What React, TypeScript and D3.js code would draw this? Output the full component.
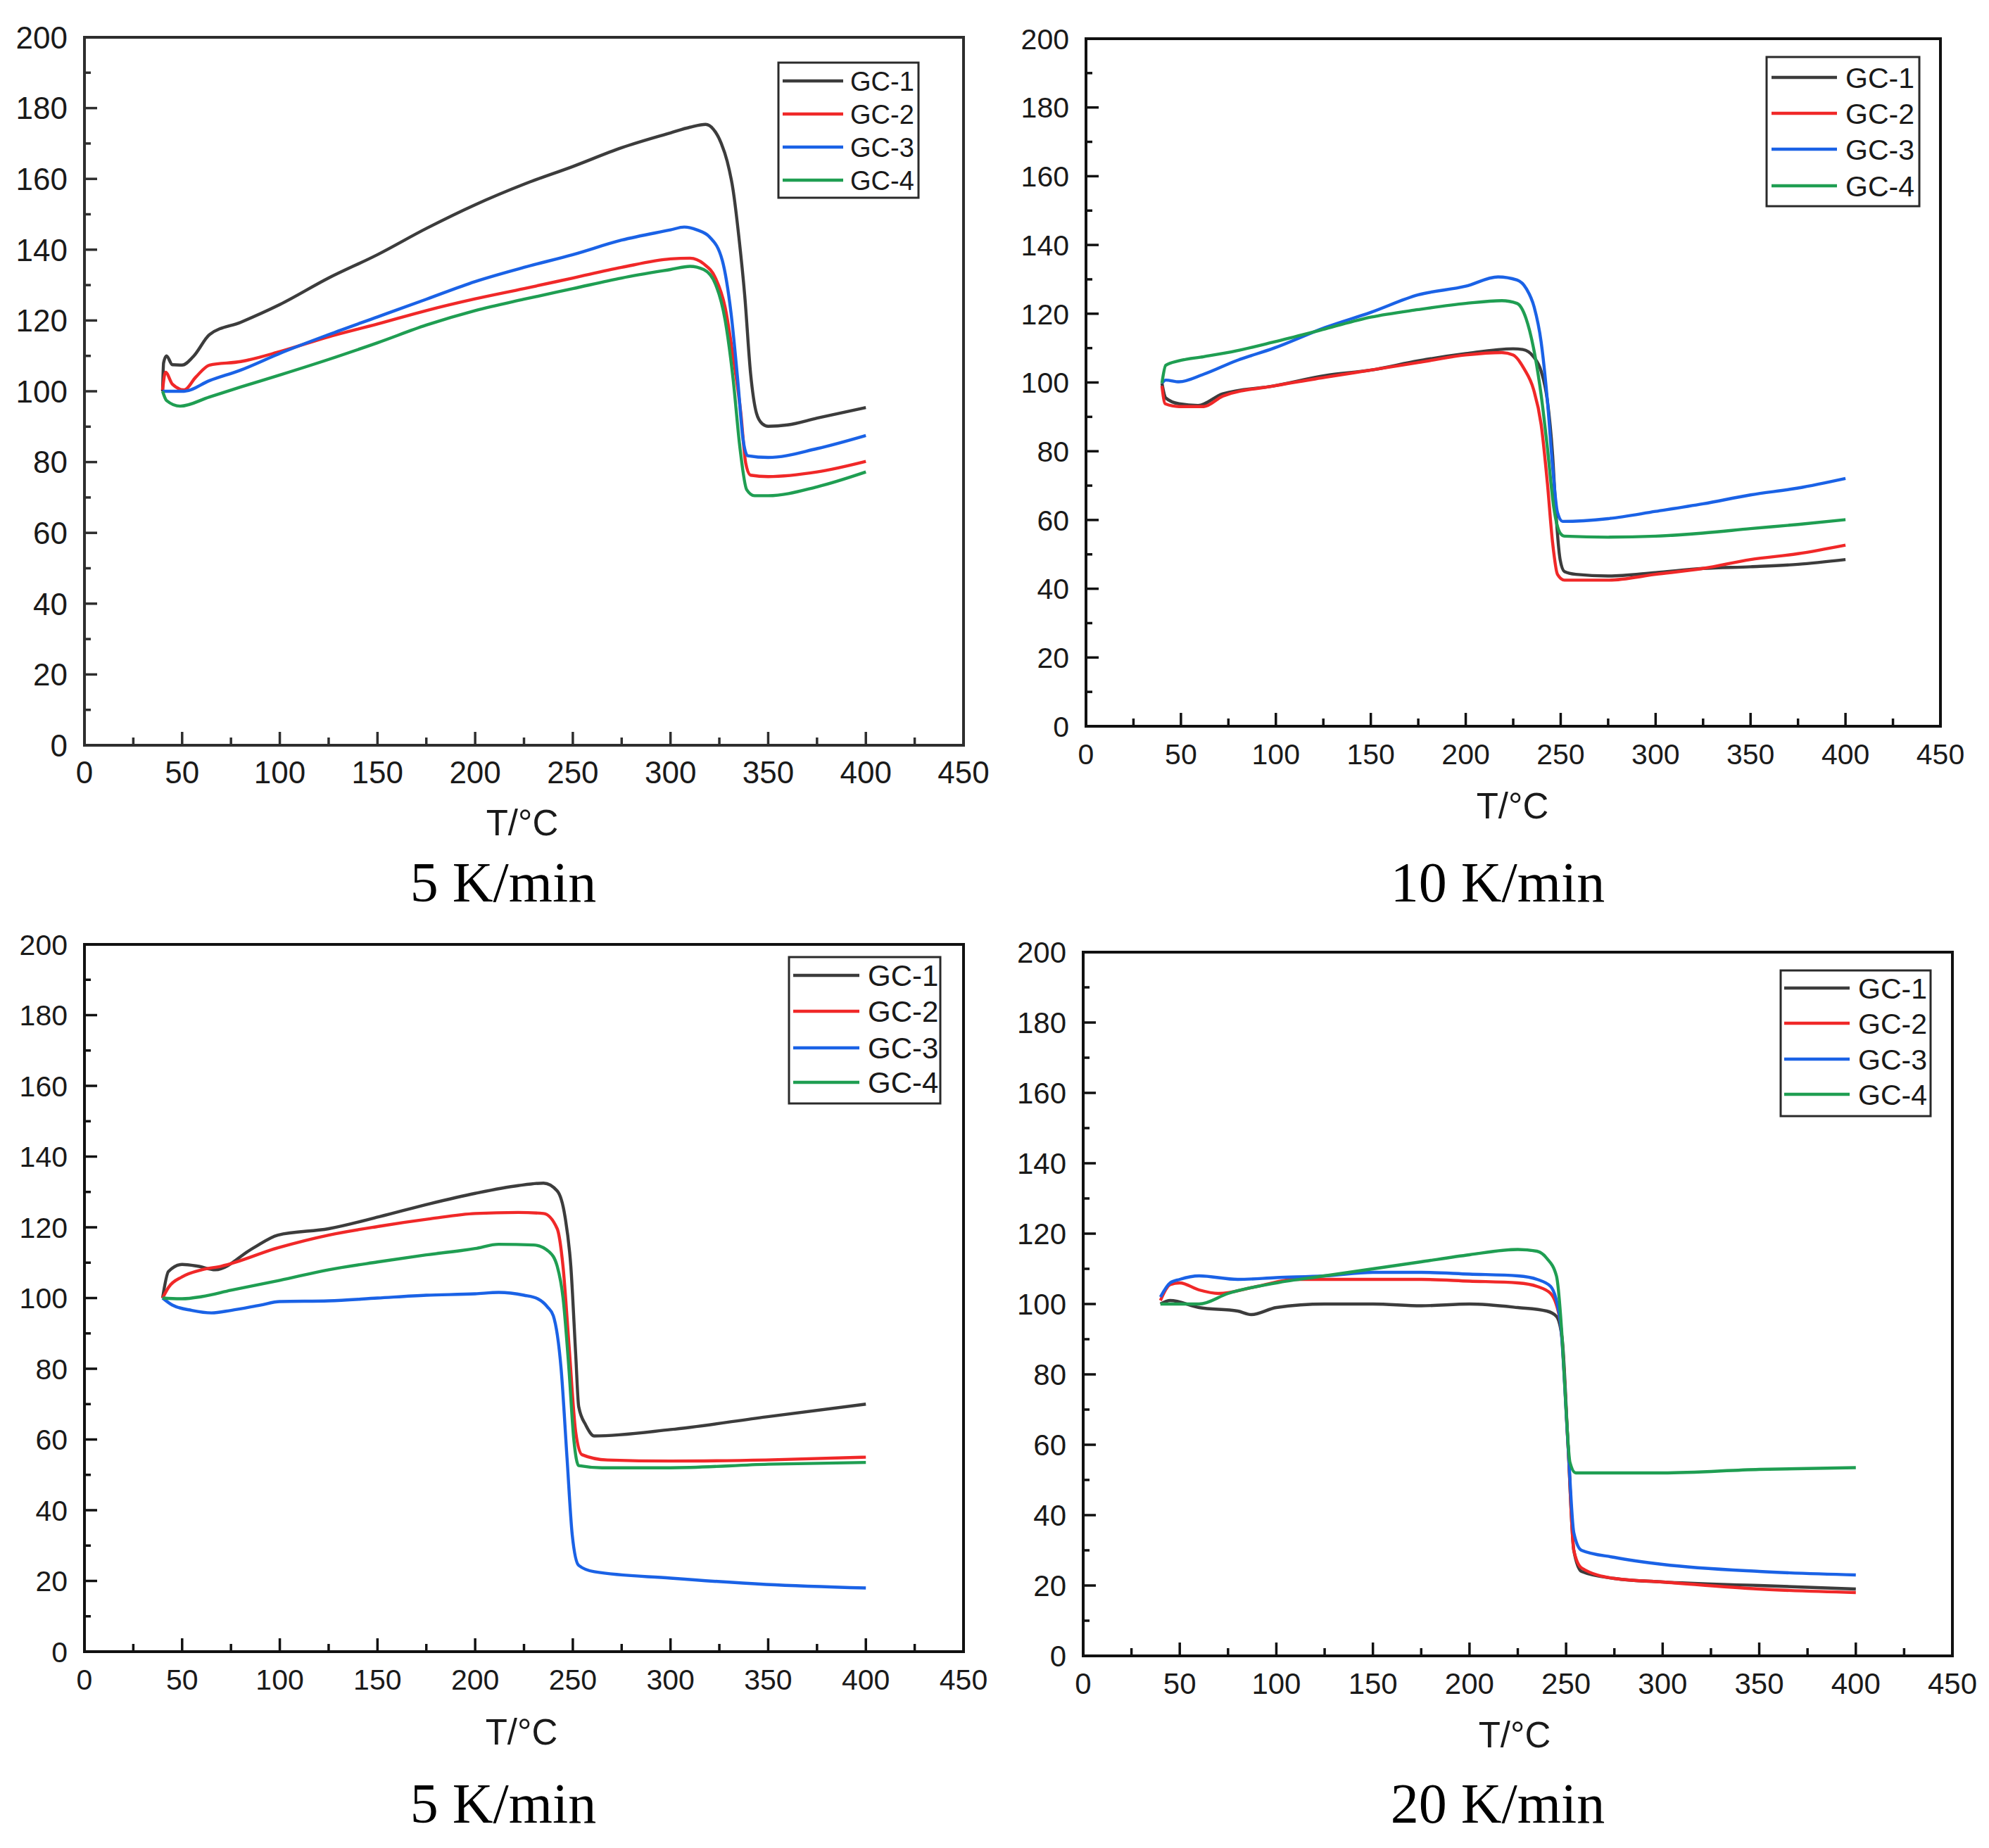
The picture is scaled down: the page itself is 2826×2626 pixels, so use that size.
import React from "react";
import * as d3 from "d3";

type Pt = [number, number];

// ---------- DATA ----------
const seriesNames = ["GC-1", "GC-2", "GC-3", "GC-4"];
const seriesColors = ["#3c3c3c", "#f02828", "#1a62e6", "#1f9e52"];
const xTicks = [0, 50, 100, 150, 200, 250, 300, 350, 400, 450];
const yTicks = [0, 20, 40, 60, 80, 100, 120, 140, 160, 180, 200];
const captions = ["5 K/min", "10 K/min", "5 K/min", "20 K/min"];
const xTitle = "T/°C";

// Panel A (top-left, 5 K/min)
const a_gc1: Pt[] = [[40, 100], [40.5, 108], [42, 110], [45, 107.5], [50, 107.4], [56, 110], [64, 116], [80, 119.5], [100, 124.5], [125, 132], [150, 138.6], [175, 146], [200, 152.7], [225, 158.5], [250, 163.5], [275, 168.8], [300, 173], [310, 174.6], [318, 175.4], [322, 174], [326, 170], [329, 165], [332, 157], [335, 143.6], [338, 127], [341, 105], [344, 93.8], [347, 90.8], [350, 90.1], [360, 90.5], [375, 92.4], [400, 95.4]];
const a_gc2: Pt[] = [[40, 100.4], [41.5, 105.4], [45, 102], [51, 100.4], [57, 104], [64, 107.4], [80, 108.4], [100, 111.2], [125, 115.4], [150, 119], [175, 122.8], [200, 126.1], [225, 129], [250, 132], [275, 135], [300, 137.4], [310, 137.6], [317, 136], [323, 132], [328, 123.6], [332, 110], [336, 93.8], [338.5, 79.7], [341, 76.3], [350, 75.9], [375, 77.2], [400, 80.2]];
const a_gc3: Pt[] = [[40, 100], [51, 100], [64, 103], [80, 106], [100, 110.7], [125, 116], [150, 121], [175, 126], [200, 131], [225, 135], [250, 138.6], [275, 142.7], [300, 145.6], [307, 146.4], [313.5, 145.6], [320, 143.6], [326.5, 137], [331, 122], [334.6, 102], [337, 87], [339.5, 81.8], [350, 81.3], [375, 83.8], [400, 87.5]];
const a_gc4: Pt[] = [[40, 100], [42, 97.4], [49, 95.8], [64, 98.4], [80, 101.2], [100, 104.6], [125, 109], [150, 113.7], [175, 118.7], [200, 122.8], [225, 126], [250, 129], [275, 132], [300, 134.4], [310, 135.3], [317, 134.4], [323, 130.3], [328, 120], [332, 103.7], [335.6, 83.8], [339, 72.2], [343, 70.5], [350, 70.5], [375, 73], [400, 77.2]];

// Panel B (top-right, 10 K/min)
const b_gc1: Pt[] = [[40, 99.8], [42, 95.5], [49, 93.8], [59, 93.3], [72, 96.7], [99, 99], [126, 102], [150, 103.6], [175, 106.3], [200, 108.4], [225, 109.8], [230, 109.6], [235.7, 107.5], [239.7, 103.3], [243, 94.7], [245.7, 79.3], [247.7, 60.4], [249.7, 48.5], [252, 45], [258, 44.2], [275, 43.7], [300, 44.7], [325, 45.9], [350, 46.4], [375, 47.1], [400, 48.5]];
const b_gc2: Pt[] = [[40, 99], [41.7, 93.8], [49, 93], [62, 93], [72, 96], [99, 99], [126, 101.5], [150, 103.6], [175, 105.8], [200, 108], [219, 108.7], [225, 108], [230.7, 104], [235.7, 98], [239.7, 87.8], [243, 70.7], [245.7, 53.6], [248.3, 44.2], [252, 42.5], [275, 42.5], [300, 44.2], [325, 45.9], [350, 48.5], [375, 50.2], [400, 52.7]];
const b_gc3: Pt[] = [[40, 99.8], [42, 100.7], [49, 100.2], [62, 102.4], [79, 106.3], [99, 110], [126, 116], [150, 120.4], [175, 125.5], [200, 128], [217, 130.7], [227, 129.8], [232, 127.2], [236, 122], [239.7, 111.8], [243, 94.7], [245.7, 75.9], [248.3, 62.2], [251, 59.6], [275, 60.4], [300, 62.5], [325, 64.7], [350, 67.3], [375, 69.3], [400, 72.1]];
const b_gc4: Pt[] = [[40, 99.8], [42, 105], [49, 106.3], [62, 107.5], [79, 109.2], [99, 111.8], [126, 115.6], [150, 119], [175, 121.2], [200, 123], [219, 123.8], [227, 123], [231.7, 118.7], [235.7, 110], [239.7, 96.4], [243, 81], [246.3, 63.9], [249.7, 56.2], [252, 55.3], [275, 55], [300, 55.3], [325, 56.2], [350, 57.5], [375, 58.7], [400, 60.1]];

// Panel C (bottom-left, 5 K/min)
const c_gc1: Pt[] = [[40, 100], [43, 107.5], [50, 109.5], [58, 109], [67, 108], [86, 114], [99, 117.8], [125, 119.6], [151, 123], [177, 126.7], [200, 129.6], [222, 131.8], [235, 132.5], [242, 130.3], [246, 123], [249, 108.8], [251.5, 83.7], [253, 69.3], [256.7, 64], [261, 61], [300, 62.8], [349, 66.4], [400, 70]];
const c_gc2: Pt[] = [[40, 100], [43, 103], [50, 106], [60, 108], [70, 109], [99, 114.2], [125, 117.8], [151, 120.3], [177, 122.4], [200, 123.9], [222, 124.2], [235, 123.9], [242, 119.6], [245, 108.8], [248, 87], [251.5, 62], [254.7, 55.7], [267.7, 54.2], [300, 53.9], [349, 54.2], [400, 55]];
const c_gc3: Pt[] = [[40, 100], [45, 98], [55, 96.5], [65, 95.8], [75, 96.5], [90, 98], [100, 99], [125, 99.2], [150, 100], [175, 100.8], [200, 101.2], [212, 101.6], [225, 100.8], [232, 99.8], [237, 97.5], [240, 95], [244, 80], [247, 55], [249.7, 33], [253, 24.4], [261, 22.6], [300, 20.8], [349, 19], [400, 18]];
const c_gc4: Pt[] = [[40, 100], [50, 99.8], [60, 100.4], [75, 102.2], [100, 105], [125, 108], [150, 110.2], [175, 112.2], [200, 114], [212, 115.2], [230, 115], [238, 113], [242, 109], [245, 100], [248, 80], [250.5, 60], [253, 52.6], [265, 52], [300, 52], [350, 53], [400, 53.5]];

// Panel D (bottom-right, 20 K/min)
const d_gc1: Pt[] = [[40, 100], [45, 101], [60, 99], [80, 98], [87, 97], [100, 99], [125, 100], [150, 100], [175, 99.5], [200, 100], [225, 99], [240, 98], [245, 96.5], [248, 90], [251, 60], [254, 30], [258, 24], [275, 22], [300, 21], [350, 20], [400, 19]];
const d_gc2: Pt[] = [[40, 101], [45, 105.5], [50, 106], [60, 104], [70, 103], [90, 105], [110, 107], [150, 107], [175, 107], [200, 106.5], [225, 106], [235, 105], [242, 103], [247, 95], [251, 60], [254, 30], [258, 25], [275, 22], [300, 21], [350, 19], [400, 18]];
const d_gc3: Pt[] = [[40, 102], [45, 106], [50, 107], [60, 108], [80, 107], [100, 107.5], [125, 108], [150, 109], [175, 109], [200, 108.5], [225, 108], [235, 107], [242, 105], [247, 95], [251, 60], [254, 35], [258, 30], [275, 28], [300, 26], [350, 24], [400, 23]];
const d_gc4: Pt[] = [[40, 100], [50, 100], [60, 100], [75, 103], [100, 106], [125, 108], [150, 110], [175, 112], [200, 114], [225, 115.5], [235, 115], [240, 113], [245, 108], [248, 90], [250, 70], [252, 55], [255, 52], [275, 52], [300, 52], [350, 53], [400, 53.5]];

// ---------- LAYOUT ----------
type Panel = {
  left: number; right: number; top: number; bottom: number;
  series: Pt[][];
  axisColor: string;
  tickFont: number;
  legend: { x0: number; x1: number; y0: number; y1: number; lineX0: number; lineX1: number; textX: number; rows: number[]; font: number };
  titleX: number; titleY: number;
  capX: number; capY: number;
  caption: string;
};

const panels: Panel[] = [
  {
    left: 120, right: 1369, top: 53, bottom: 1059,
    series: [a_gc1, a_gc2, a_gc3, a_gc4], axisColor: "#2e2e2e", tickFont: 44,
    legend: { x0: 1106, x1: 1305, y0: 89, y1: 281, lineX0: 1112, lineX1: 1198, textX: 1208, rows: [115, 162, 209, 256], font: 38 },
    titleX: 742, titleY: 1187, capX: 715, capY: 1281, caption: captions[0],
  },
  {
    left: 1543, right: 2757, top: 55, bottom: 1032,
    series: [b_gc1, b_gc2, b_gc3, b_gc4], axisColor: "#111", tickFont: 41,
    legend: { x0: 2510, x1: 2727, y0: 81, y1: 293, lineX0: 2517, lineX1: 2610, textX: 2622, rows: [110, 161, 212, 264], font: 41 },
    titleX: 2149, titleY: 1163, capX: 2128, capY: 1281, caption: captions[1],
  },
  {
    left: 120, right: 1369, top: 1342, bottom: 2347,
    series: [c_gc1, c_gc2, c_gc3, c_gc4], axisColor: "#111", tickFont: 41,
    legend: { x0: 1121, x1: 1336, y0: 1360, y1: 1568, lineX0: 1127, lineX1: 1221, textX: 1233, rows: [1386, 1437, 1489, 1538], font: 42 },
    titleX: 741, titleY: 2479, capX: 715, capY: 2590, caption: captions[2],
  },
  {
    left: 1539, right: 2774, top: 1353, bottom: 2353,
    series: [d_gc1, d_gc2, d_gc3, d_gc4], axisColor: "#111", tickFont: 42,
    legend: { x0: 2530, x1: 2743, y0: 1379, y1: 1586, lineX0: 2535, lineX1: 2628, textX: 2640, rows: [1404, 1454, 1505, 1555], font: 41 },
    titleX: 2152, titleY: 2483, capX: 2128, capY: 2590, caption: captions[3],
  },
];

const SANS = "'Liberation Sans', Arial, Helvetica, sans-serif";
const SERIF = "'Palatino Linotype', 'Book Antiqua', 'Liberation Serif', 'DejaVu Serif', serif";

function PanelView({ p }: { p: Panel }) {
  const x = d3.scaleLinear().domain([0, 450]).range([p.left, p.right]);
  const y = d3.scaleLinear().domain([0, 200]).range([p.bottom, p.top]);
  const line = d3
    .line<Pt>()
    .x((d) => x(d[0]))
    .y((d) => y(d[1]))
    .curve(d3.curveMonotoneX);
  const xMinor = d3.range(25, 450, 50);
  const yMinor = d3.range(10, 200, 20);
  const textColor = "#1a1a1a";
  return (
    <g>
      {/* series */}
      {p.series.map((s, i) => (
        <path key={i} d={line(s) || ""} fill="none" stroke={seriesColors[i]} strokeWidth={4.4} strokeLinejoin="round" />
      ))}
      {/* frame */}
      <rect x={p.left} y={p.top} width={p.right - p.left} height={p.bottom - p.top} fill="none" stroke={p.axisColor} strokeWidth={4} />
      {/* x ticks */}
      {xTicks.map((t) => (
        <g key={"xt" + t}>
          <line x1={x(t)} x2={x(t)} y1={p.bottom} y2={p.bottom - 19} stroke={p.axisColor} strokeWidth={3.5} />
          <text x={x(t)} y={p.bottom + 54} textAnchor="middle" fontFamily={SANS} fontSize={p.tickFont} fill={textColor}>{t}</text>
        </g>
      ))}
      {xMinor.map((t) => (
        <line key={"xm" + t} x1={x(t)} x2={x(t)} y1={p.bottom} y2={p.bottom - 11} stroke={p.axisColor} strokeWidth={3.5} />
      ))}
      {/* y ticks */}
      {yTicks.map((t) => (
        <g key={"yt" + t}>
          <line x1={p.left} x2={p.left + 18} y1={y(t)} y2={y(t)} stroke={p.axisColor} strokeWidth={3.5} />
          <text x={p.left - 24} y={y(t)} dy="0.36em" textAnchor="end" fontFamily={SANS} fontSize={p.tickFont} fill={textColor}>{t}</text>
        </g>
      ))}
      {yMinor.map((t) => (
        <line key={"ym" + t} x1={p.left} x2={p.left + 9} y1={y(t)} y2={y(t)} stroke={p.axisColor} strokeWidth={3.5} />
      ))}
      {/* legend */}
      <rect x={p.legend.x0} y={p.legend.y0} width={p.legend.x1 - p.legend.x0} height={p.legend.y1 - p.legend.y0} fill="#fff" stroke="#2a2a2a" strokeWidth={3} />
      {seriesNames.map((n, i) => (
        <g key={n}>
          <line x1={p.legend.lineX0} x2={p.legend.lineX1} y1={p.legend.rows[i]} y2={p.legend.rows[i]} stroke={seriesColors[i]} strokeWidth={4.4} />
          <text x={p.legend.textX} y={p.legend.rows[i]} dy="0.36em" fontFamily={SANS} fontSize={p.legend.font} fill={textColor}>{n}</text>
        </g>
      ))}
      {/* axis title */}
      <text x={p.titleX} y={p.titleY} textAnchor="middle" fontFamily={SANS} fontSize={51} fill={textColor}>{xTitle}</text>
      {/* caption */}
      <text x={p.capX} y={p.capY} textAnchor="middle" fontFamily={SERIF} fontSize={80} fill="#000">{p.caption}</text>
    </g>
  );
}

export default function App() {
  return (
    <svg
      width={2826}
      height={2626}
      viewBox="0 0 2826 2626"
      style={{ position: "absolute", left: 0, top: 0, display: "block", background: "#fff" }}
    >
      <rect x={0} y={0} width={2826} height={2626} fill="#fff" />
      {panels.map((p, i) => (
        <PanelView key={i} p={p} />
      ))}
    </svg>
  );
}
